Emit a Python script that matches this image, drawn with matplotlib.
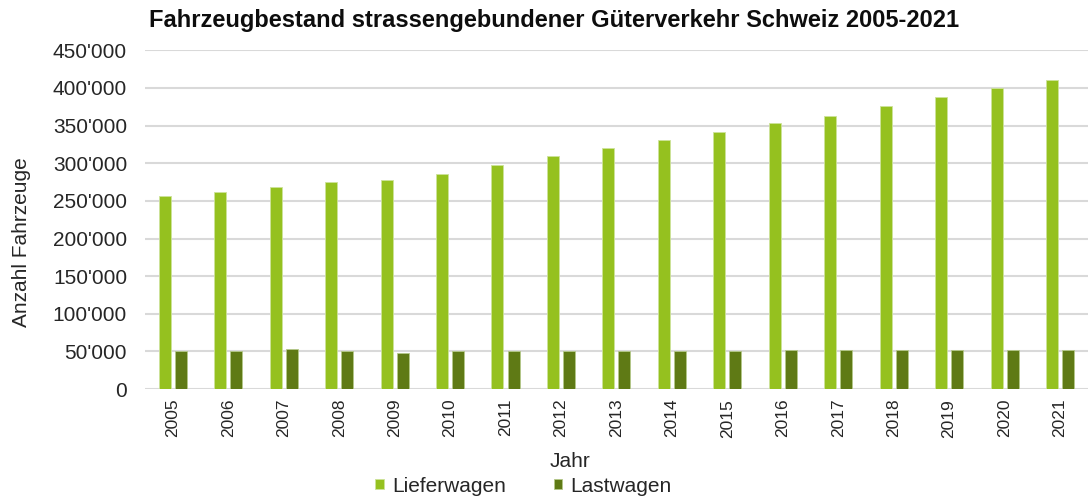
import matplotlib.pyplot as plt
import numpy as np
from matplotlib.ticker import FuncFormatter

plt.rcParams['font.family'] = ['Liberation Sans', 'DejaVu Sans']

### data
years = ['2005', '2006', '2007', '2008', '2009', '2010', '2011', '2012', '2013',
         '2014', '2015', '2016', '2017', '2018', '2019', '2020', '2021']
lieferwagen = [256000, 262000, 269000, 275000, 278000, 285000, 297000, 310000, 320000,
               331000, 341000, 353000, 363000, 376000, 388000, 400000, 410000]
lastwagen = [50000, 50000, 53000, 50000, 48500, 50000, 50000, 50000, 50000,
             50000, 50500, 51800, 51800, 51800, 51800, 51800, 51800]

col_liefer = '#95c11f'
col_last = '#5f7a15'
txt = '#262626'

### plot
fig = plt.figure(figsize=(10.91, 4.97), dpi=100)
ax = fig.add_axes([0.133, 0.217, 0.864, 0.682])

x = np.arange(len(years))
w = 0.216
off = 0.145
ax.bar(x - off, lieferwagen, w, color=col_liefer, edgecolor='#cde39a', linewidth=0.6,
       label='Lieferwagen', zorder=3)
ax.bar(x + off, lastwagen, w, color=col_last, edgecolor='#b5c98a', linewidth=0.6,
       label='Lastwagen', zorder=3)

ax.set_xlim(-0.5, len(years) - 0.5)
ax.set_ylim(0, 450000)
ax.set_yticks(np.arange(0, 450001, 50000))
ax.yaxis.set_major_formatter(FuncFormatter(lambda v, p: f"{int(v):,}".replace(',', "'")))
ax.grid(axis='y', color='#d9d9d9', linewidth=1.5, zorder=0)
for s in ax.spines.values():
    s.set_visible(False)
ax.tick_params(axis='y', length=0, pad=13, labelsize=15, labelcolor=txt)
ax.set_xticks(x)
ax.set_xticklabels(years, rotation=90)
ax.tick_params(axis='x', length=0, pad=7, labelsize=12.5, labelcolor=txt)

# axis titles
fig.text(22 / 1091, 1 - 242 / 497, 'Anzahl Fahrzeuge', rotation=90, ha='center', va='center',
         fontsize=15, color=txt)
fig.text(0.522, 0.072, 'Jahr', ha='center', va='center', fontsize=15, color=txt)
fig.text(0.508, 0.958, 'Fahrzeugbestand strassengebundener Güterverkehr Schweiz 2005-2021',
         ha='center', va='center', fontsize=17, fontweight='bold', color='#0d0d0d')

fig.legend(loc='center', bbox_to_anchor=(0.48, 0.022), ncol=2, frameon=False,
           fontsize=15, handlelength=0.4, handleheight=0.4, handletextpad=0.4,
           columnspacing=2.3, labelcolor=txt, borderpad=0)

fig.savefig('out.png', dpi=100)
